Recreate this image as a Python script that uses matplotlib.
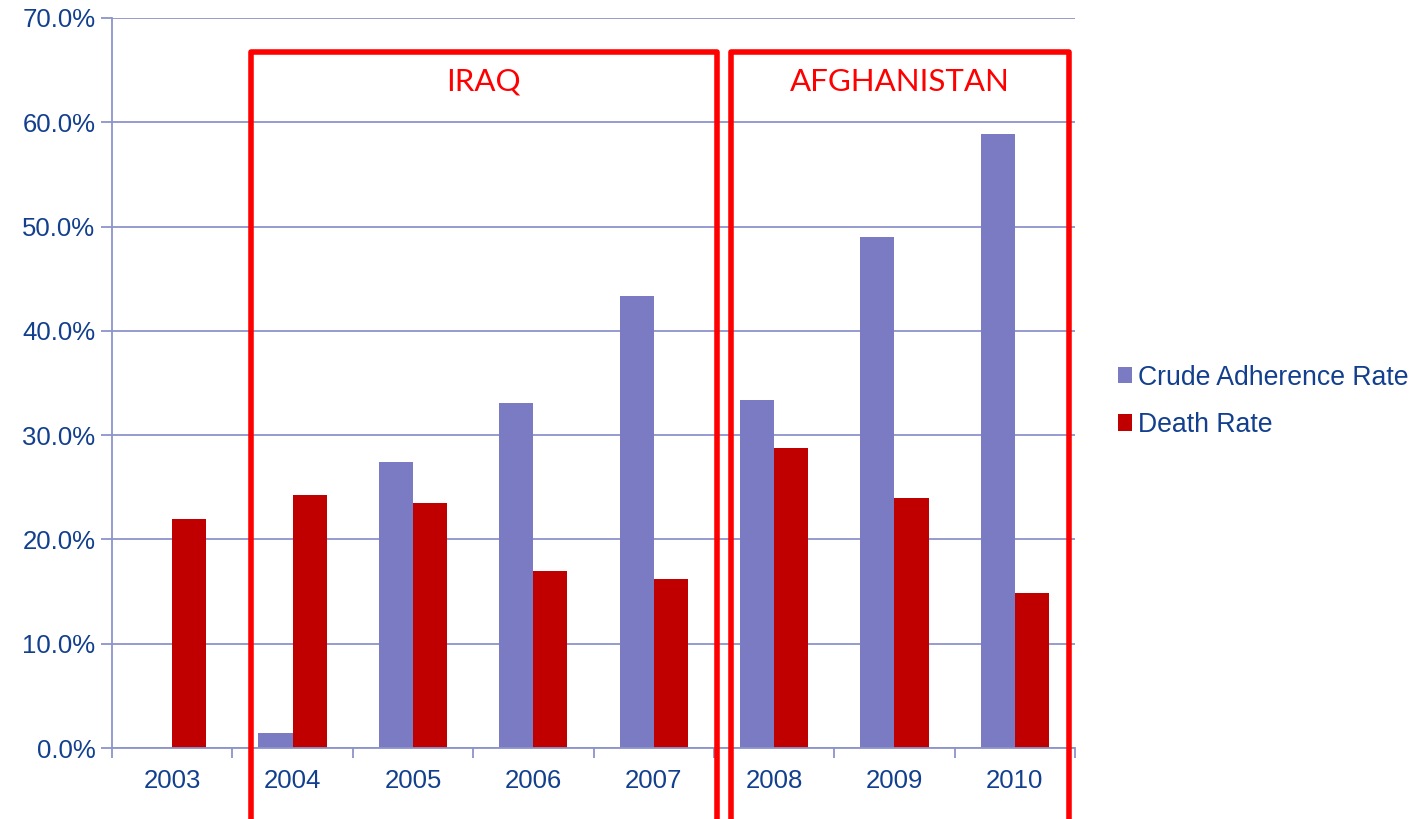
''' Crude adherence vs death rate by year, Iraq / Afghanistan periods
'''

import numpy as np
import matplotlib.pyplot as plt
from matplotlib.patches import Rectangle

# DATA
#*************
years = ['2003', '2004', '2005', '2006', '2007', '2008', '2009', '2010']
crude_adherence = [0.0, 1.4, 27.4, 33.1, 43.3, 33.4, 49.0, 58.9]
death_rate = [22.0, 24.3, 23.5, 17.0, 16.2, 28.8, 24.0, 14.9]
series_names = ['Crude Adherence Rate', 'Death Rate']
theatres = ['IRAQ', 'AFGHANISTAN']

# STYLE
#*************
c_crude = '#7B7BC3'
c_death = '#C00000'
c_grid = '#8C94CA'
c_text = '#123F8E'
c_box = '#FF0000'
plt.rcParams['font.family'] = ['Liberation Sans', 'DejaVu Sans']

fig = plt.figure(figsize=(14.2, 8.19), dpi=100)
ax = fig.add_axes([112/1420, 1 - 748/819, (1075 - 112)/1420, (748 - 18)/819])

x = np.arange(len(years))
w = 0.283
ax.bar(x - w/2, crude_adherence, w, color=c_crude, label=series_names[0], zorder=3)
ax.bar(x + w/2, death_rate, w, color=c_death, label=series_names[1], zorder=3)

ax.set_xlim(-0.5, len(years) - 0.5)
ax.set_ylim(0, 70)

# y axis: gridlines every 10%
ax.set_yticks(np.arange(0, 71, 10))
ax.set_yticklabels(['%.1f%%' % v for v in np.arange(0, 71, 10)])
ax.yaxis.grid(True, color=c_grid, linewidth=1.3, zorder=0)
ax.tick_params(axis='y', length=8, width=1.3, color=c_grid, labelsize=18.5,
               labelcolor=c_text, pad=4)

# x axis: ticks between categories, labels at centres
ax.set_xticks(np.arange(-0.5, len(years), 1))
ax.set_xticklabels([])
ax.set_xticks(x, minor=True)
ax.set_xticklabels(years, minor=True)
ax.tick_params(axis='x', which='major', length=7, width=1.3, color=c_grid)
ax.tick_params(axis='x', which='minor', length=0, labelsize=18.5,
               labelcolor=c_text, pad=15)

for side in ['top', 'right']:
    ax.spines[side].set_visible(False)
for side in ['left', 'bottom']:
    ax.spines[side].set_color(c_grid)
    ax.spines[side].set_linewidth(1.3)
    ax.spines[side].set_zorder(4)

# red boxes around each theatre
boxes = [(0.654, 4.525), (4.641, 7.448)]
for (x0, x1), name in zip(boxes, theatres):
    ax.add_patch(Rectangle((x0, -9), x1 - x0, 66.7 + 9, fill=False,
                           edgecolor=c_box, linewidth=4, joinstyle='round',
                           clip_on=False, zorder=5))
    ax.text((x0 + x1)/2, 63.9, name, color=c_box, fontsize=22.5,
            family=['Lato', 'DejaVu Sans'], ha='center', va='center', zorder=6)

ax.legend(loc='center left', bbox_to_anchor=(1.0, 0.475), frameon=False,
          fontsize=19.2, labelcolor=c_text, handlelength=0.55,
          handleheight=0.55, handletextpad=0.22, labelspacing=0.8,
          borderaxespad=1.2)

plt.savefig('out.png', dpi=100)
